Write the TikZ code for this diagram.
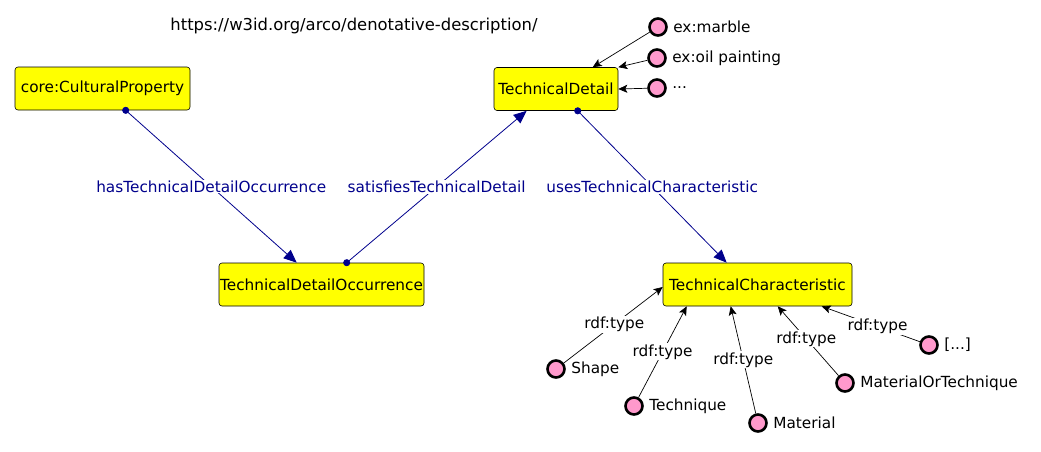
\documentclass[tikz,border=0pt]{standalone}
\usepackage{fontspec}
\setmainfont{DejaVu Sans}
\usetikzlibrary{arrows.meta,calc}
\definecolor{prop}{RGB}{0,0,140}
\definecolor{indiv}{RGB}{255,153,204}
\definecolor{clsfill}{RGB}{255,255,0}
\begin{document}
\begin{tikzpicture}[x=1pt,y=-1pt, font=\fontsize{15.3}{18}\selectfont,
  cls/.style={draw=black, line width=0.6pt, fill=clsfill, rounded corners=3pt, inner sep=0pt, minimum height=43pt},
  ind/.style={circle, draw=black, line width=2.6pt, fill=indiv, minimum size=17pt, inner sep=0pt},
  obj/.style={draw=prop, line width=0.8pt, shorten <=-3.5pt, {Circle[length=7pt]}-{Triangle[length=13pt,width=11pt]}},
  plab/.style={fill=white, text=prop, inner sep=1pt},
  typ/.style={draw=black, line width=0.7pt, -{Stealth[length=9pt,width=8pt,inset=2pt]}},
  tlab/.style={fill=white, inner sep=1pt},
  ilab/.style={label={[label distance=2pt]right:#1}}]
\useasboundingbox (0,0) rectangle (1041,451);

\node[font=\fontsize{16.4}{19}\selectfont] (url) at (354,26) {https://w3id.org/arco/denotative-description/};

\node[cls, minimum width=175pt] (cp) at (102.5,88.5) {core:CulturalProperty};
\node[cls, minimum width=205pt] (tdo) at (321.5,284.5) {TechnicalDetailOccurrence};
\node[cls, minimum width=124pt] (td) at (556,89) {TechnicalDetail};
\node[cls, minimum width=189pt] (tc) at (757.5,284.5) {TechnicalCharacteristic};

\node[ind, ilab={ex:marble}] (marble) at (658,27) {};
\node[ind, ilab={ex:oil painting}] (oil) at (657,58) {};
\node[ind, ilab={...}] (etc) at (657,88) {};

\node[ind, ilab={Shape}] (shape) at (556,369) {};
\node[ind, ilab={Technique}] (tech) at (634,406) {};
\node[ind, ilab={Material}] (mat) at (758,423) {};
\node[ind, ilab={MaterialOrTechnique}] (mot) at (845,383) {};
\node[ind, ilab={[...]}] (more) at (929,345) {};

\draw[obj] ($(cp.south west)+(111,0)$) -- node[plab]{hasTechnicalDetailOccurrence} ($(tdo.north west)+(78,0)$);
\draw[obj] ($(tdo.north west)+(128,0)$) -- node[plab]{satisfiesTechnicalDetail} ($(td.south west)+(33,0)$);
\draw[obj] ($(td.south west)+(84,0)$) -- node[plab]{usesTechnicalCharacteristic} ($(tc.north west)+(64,0)$);

\draw[typ] (marble) -- ($(td.north west)+(99,0)$);
\draw[typ] (oil) -- (td.north east);
\draw[typ] (etc) -- (td.east);

\draw[typ] (shape) -- node[tlab, pos=0.51]{rdf:type} ($(tc.west)+(0,2.5)$);
\draw[typ] (tech) -- node[tlab, pos=0.5]{rdf:type} ($(tc.south west)+(24,0)$);
\draw[typ] (mat) -- node[tlab, pos=0.5]{rdf:type} ($(tc.south west)+(68,0)$);
\draw[typ] (mot) -- node[tlab, pos=0.53]{rdf:type} ($(tc.south west)+(115,0)$);
\draw[typ] (more) -- node[tlab, pos=0.43]{rdf:type} ($(tc.south west)+(159,0)$);
\end{tikzpicture}
\end{document}
